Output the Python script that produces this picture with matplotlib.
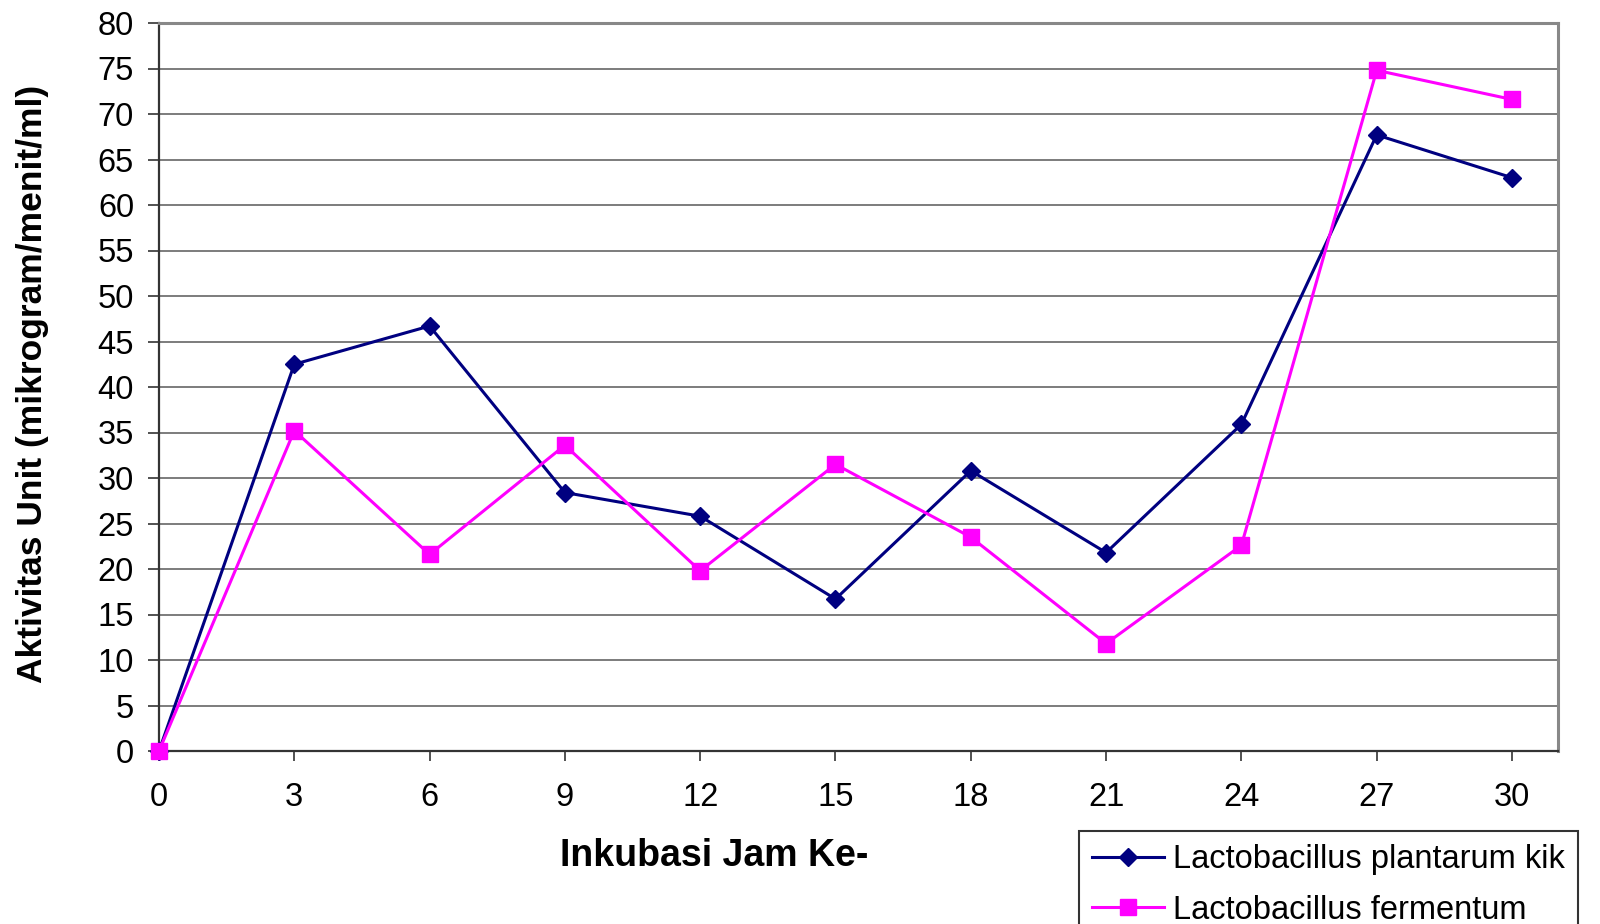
import matplotlib
matplotlib.use("Agg")
import matplotlib.pyplot as plt

plt.rcParams['font.family'] = ['Liberation Sans', 'DejaVu Sans']

jam = [0, 3, 6, 9, 12, 15, 18, 21, 24, 27, 30]
plantarum = [0, 42.5, 46.7, 28.4, 25.8, 16.7, 30.8, 21.8, 35.9, 67.7, 63.0]
fermentum = [0, 35.2, 21.6, 33.6, 19.8, 31.5, 23.5, 11.8, 22.6, 74.8, 71.6]
yticks = list(range(0, 81, 5))
label_plantarum = "Lactobacillus plantarum kik"
label_fermentum = "Lactobacillus fermentum"

fig = plt.figure(figsize=(16, 9.24), dpi=100)
ax = fig.add_axes([159/1600, 1-751/924, (1558-159)/1600, (751-23)/924])

ax.set_xlim(0, 31.02)
ax.set_ylim(0, 80)
ax.set_yticks(yticks)
ax.set_xticks(jam)
ax.yaxis.grid(True, color='#666666', linewidth=1.2)
ax.set_axisbelow(True)

l1, = ax.plot(jam, plantarum, color='#000080', linewidth=2.2, marker='D',
              markersize=9.5, clip_on=False, zorder=3)
l2, = ax.plot(jam, fermentum, color='#FF00FF', linewidth=2.2, marker='s',
              markersize=12, clip_on=False, zorder=4)

for s in ['left', 'bottom']:
    ax.spines[s].set_color('#333333')
    ax.spines[s].set_linewidth(1.6)
for s in ['top', 'right']:
    ax.spines[s].set_color('#888888')
    ax.spines[s].set_linewidth(2.2)

ax.tick_params(axis='y', length=8, width=1.2, color='#333333', pad=10, labelsize=23.5)
ax.tick_params(axis='x', length=7, width=1.2, color='#333333', pad=15, labelsize=23.5)

fig.text(714/1600, 1-856/924, "Inkubasi Jam Ke-", ha='center', va='center',
         fontsize=27, fontweight='bold')
fig.text(33/1600, 1-384/924, "Aktivitas Unit (mikrogram/menit/ml)", ha='center',
         va='center', rotation=90, fontsize=25.5, fontweight='bold')

leg = fig.legend([l1, l2], [label_plantarum, label_fermentum], loc='upper left',
                 bbox_to_anchor=(1079/1600, 1-831/924), fontsize=23.5,
                 frameon=True, fancybox=False, edgecolor='black',
                 handlelength=2.2, handletextpad=0.28, borderpad=0.4,
                 labelspacing=0.6, borderaxespad=0)
leg.get_frame().set_linewidth(1.5)

fig.savefig("out.png", dpi=100)
